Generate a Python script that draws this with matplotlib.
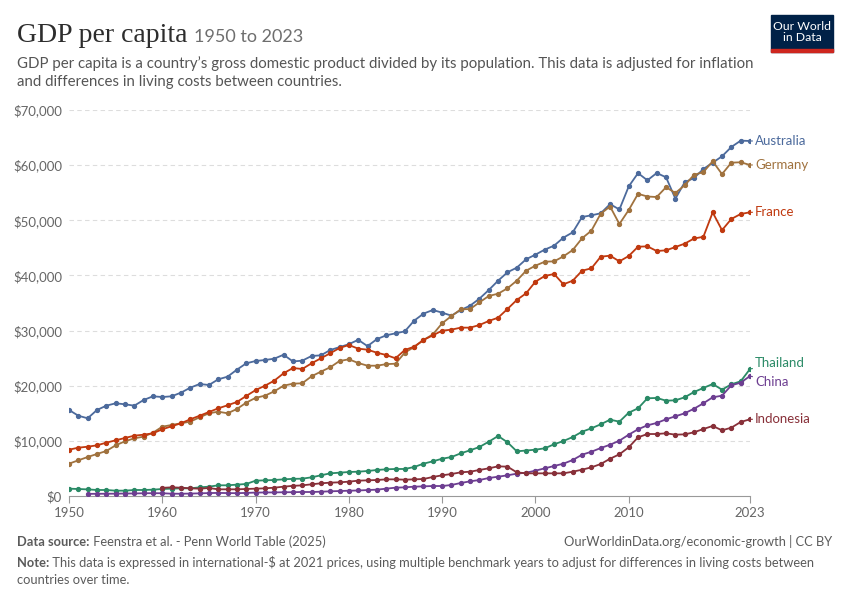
import numpy as np
import matplotlib
matplotlib.use("Agg")
import matplotlib.pyplot as plt
from matplotlib.patches import Rectangle

plt.rcParams['font.family'] = ['Lato', 'DejaVu Sans']

nan = np.nan
years = list(range(1950, 2024))

australia = [15600, 14560, 14090, 15600, 16380, 16810, 16630, 16380, 17410, 18080,
             17950, 18080, 18740, 19640, 20310, 20130, 21160, 21640, 22910, 24060,
             24480, 24660, 24900, 25620, 24400, 24540, 25390, 25510, 26470, 27000,
             27530, 28320, 27180, 28440, 29140, 29500, 29860, 31800, 33070, 33730,
             33250, 32700, 33730, 34520, 35790, 37360, 39050, 40570, 41410, 42930,
             43770, 44680, 45400, 46850, 47820, 50600, 50900, 51270, 52930, 51960,
             56140, 58550, 57250, 58570, 57800, 53920, 56890, 57670, 59300, 60450,
             61600, 63290, 64440, 64380]
germany = [5860, 6470, 7070, 7620, 8160, 9190, 9920, 10460, 10760, 11480,
           12570, 12880, 13190, 13480, 14270, 15000, 15290, 15000, 15780, 16930,
           17800, 18190, 18980, 20000, 20370, 20440, 21710, 22550, 23340, 24480,
           24790, 24120, 23630, 23630, 23910, 23990, 26000, 27020, 28290, 29300,
           31320, 32640, 33850, 33910, 35120, 36270, 36690, 37660, 39050, 40860,
           41770, 42490, 42550, 43460, 44610, 46740, 48120, 51200, 52500, 49330,
           51860, 54800, 54310, 54220, 56000, 54950, 56350, 58250, 58730, 60700,
           58370, 60450, 60520, 60030]
france = [8400, 8760, 8940, 9190, 9670, 10100, 10520, 10940, 11120, 11370,
          12100, 12640, 13190, 13910, 14560, 15230, 15900, 16450, 17050, 18140,
          19200, 20000, 20910, 22250, 23210, 23030, 24060, 24970, 25880, 26840,
          27380, 26720, 26530, 25990, 25570, 24970, 26480, 27080, 28290, 29140,
          29980, 30170, 30530, 30530, 31010, 31740, 32340, 33910, 35550, 36760,
          38870, 39900, 40260, 38390, 39050, 40860, 41290, 43400, 43580, 42550,
          43520, 45210, 45270, 44430, 44550, 45150, 45760, 46700, 47000, 51420,
          48210, 50240, 51140, 51450]
thailand = [1330, 1270, 1200, 1090, 1090, 970, 970, 1090, 1090, 1150,
            1270, 1330, 1390, 1390, 1570, 1690, 1940, 1940, 2060, 2180,
            2780, 2840, 2900, 3020, 3110, 3140, 3390, 3750, 4110, 4230,
            4350, 4410, 4530, 4720, 4840, 4900, 4900, 5260, 5860, 6290,
            6760, 7070, 7740, 8290, 8890, 9850, 10880, 9740, 8100, 8250,
            8400, 8650, 9380, 9970, 10700, 11660, 12280, 13000, 13840, 13480,
            15110, 15900, 17720, 17780, 17290, 17350, 17900, 18860, 19590, 20310,
            19280, 20250, 20800, 23030]
china = [nan, nan, 380, 400, 410, 420, 450, 460, 500, 510,
         500, 420, 410, 440, 480, 530, 560, 530, 510, 560,
         620, 640, 650, 680, 690, 730, 720, 780, 850, 900,
         960, 1000, 1080, 1150, 1330, 1510, 1570, 1690, 1750, 1810,
         1810, 2000, 2360, 2660, 2900, 3260, 3500, 3750, 4050, 4230,
         4590, 5020, 5440, 5860, 6530, 7490, 8030, 8700, 9300, 10030,
         11120, 12100, 12820, 13240, 13910, 14450, 15000, 15830, 16810, 17900,
         18190, 20070, 20550, 21760]
indonesia = [nan, nan, nan, nan, nan, nan, nan, nan, nan, nan,
             1480, 1570, 1510, 1390, 1330, 1450, 1210, 1210, 1210, 1270,
             1330, 1390, 1510, 1690, 1840, 1930, 2120, 2300, 2420, 2480,
             2600, 2780, 2840, 2900, 3020, 3020, 2960, 3020, 3080, 3450,
             3750, 3990, 4290, 4410, 4720, 5020, 5380, 5320, 4290, 4110,
             4110, 4110, 4110, 4110, 4410, 4770, 5200, 5800, 6760, 7560,
             8830, 10640, 11240, 11240, 11370, 11120, 11180, 11550, 12150, 12700,
             11910, 12390, 13420, 13910]

countries = ["Australia", "Germany", "France", "Thailand", "China", "Indonesia"]
series = [australia, germany, france, thailand, china, indonesia]
colors = ["#4c6a9c", "#a0723e", "#c0390f", "#2a8a66", "#6d3e91", "#883039"]

xticks = [1950, 1960, 1970, 1980, 1990, 2000, 2010, 2023]
yticks = [0, 10000, 20000, 30000, 40000, 50000, 60000, 70000]

fig = plt.figure(figsize=(8.5, 6), dpi=100)
ax = fig.add_axes([69/850, 1 - 496/600, (750 - 69)/850, (496 - 110)/600])

for name, vals, c in zip(countries, series, colors):
    ax.plot(years, vals, color=c, lw=1.3, marker='o', markersize=2.8, zorder=3)

ax.set_xlim(1950, 2023)
ax.set_ylim(0, 70000)
ax.set_xticks(xticks)
ax.set_yticks(yticks)
ax.set_yticklabels(["$0"] + ["${:,}".format(v) for v in yticks[1:]])
ax.tick_params(axis='y', length=0, pad=5, labelsize=9.5, labelcolor="#666666")
ax.tick_params(axis='x', length=5, width=0.8, color="#999999", pad=3,
               labelsize=9.5, labelcolor="#666666")
for s in ["top", "right", "left"]:
    ax.spines[s].set_visible(False)
ax.spines["bottom"].set_color("#999999")
ax.spines["bottom"].set_linewidth(0.8)
for v in yticks[1:]:
    ax.axhline(v, color="#dddddd", lw=0.8, ls=(0, (4, 3)), zorder=1)

# end labels, nudged apart so they do not overlap
last = [s[-1] for s in series]
order = sorted(range(len(last)), key=lambda i: last[i])
pos = [float(v) for v in last]
gap = 3300
for _ in range(50):
    for a, b in zip(order[:-1], order[1:]):
        if pos[b] - pos[a] < gap:
            mid = (pos[a] + pos[b]) / 2
            pos[a] = mid - gap / 2
            pos[b] = mid + gap / 2
for i, name in enumerate(countries):
    ax.annotate(name, xy=(2023, last[i]), xytext=(2023.55, pos[i]),
                textcoords='data', color=colors[i], fontsize=9.5,
                va='center', ha='left', annotation_clip=False,
                arrowprops=dict(arrowstyle='-', color=colors[i], lw=0.9,
                                shrinkA=0, shrinkB=1))

# title block
fig.canvas.draw()
renderer = fig.canvas.get_renderer()
t = fig.text(17/850, 1 - 42/600, "GDP per capita", family="Liberation Serif",
             fontsize=20, color="#2d2d2d")
bb = t.get_window_extent(renderer)
fig.text(bb.x1/850 + 7/850, 1 - 42/600, "1950 to 2023", fontsize=13,
         color="#6e6e6e")
fig.text(17/850, 1 - 68/600,
         "GDP per capita is a country\u2019s gross domestic product divided by its population. This data is adjusted for inflation",
         fontsize=10.8, color="#555555")
fig.text(17/850, 1 - 86/600, "and differences in living costs between countries.",
         fontsize=10.8, color="#555555")

# logo
fig.patches.append(Rectangle((771/850, 1 - 52/600), 62/850, 37/600,
                             transform=fig.transFigure, color="#002147"))
fig.patches.append(Rectangle((771/850, 1 - 52/600), 62/850, 3/600,
                             transform=fig.transFigure, color="#ce261e"))
fig.text(802/850, 1 - 32/600, "Our World\nin Data", color="white", fontsize=8.8,
         ha='center', va='center', linespacing=1.0)


def rich(x, y, parts):
    for s, w in parts:
        tt = fig.text(x, y, s, fontsize=9.3, color="#5b5b5b", weight=w)
        x = tt.get_window_extent(renderer).x1 / 850


rich(17/850, 1 - 546/600, [("Data source:", "bold"),
                           (" Feenstra et al. - Penn World Table (2025)", "normal")])
fig.text(832/850, 1 - 546/600, "OurWorldinData.org/economic-growth | CC BY",
         fontsize=9.3, color="#5b5b5b", ha='right')
rich(17/850, 1 - 567/600, [("Note:", "bold"),
                           (" This data is expressed in international-$ at 2021 prices, using multiple benchmark years to adjust for differences in living costs between", "normal")])
fig.text(17/850, 1 - 584/600, "countries over time.", fontsize=9.3, color="#5b5b5b")

fig.savefig("out.png", dpi=100)
